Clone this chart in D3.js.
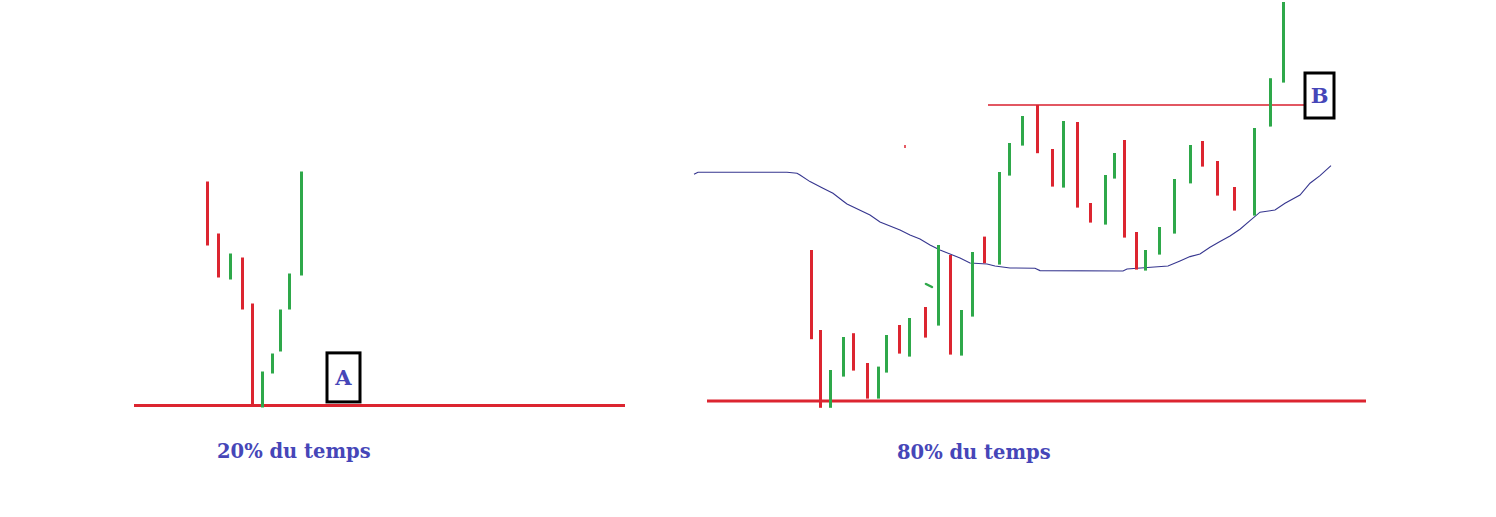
<!DOCTYPE html>
<html>
<head>
<meta charset="utf-8">
<script src="https://cdn.jsdelivr.net/npm/d3@7"></script>
<style>
  html, body { margin: 0; padding: 0; background: #ffffff; }
  svg { display: block; }
</style>
</head>
<body>
<svg id="chart" width="1496" height="517"></svg>
<script>
// ---------- DATA ----------
// Left panel: "20% du temps"
const leftTime = [7.3, 8.4, 9.6, 10.8, 11.8, 12.8, 13.8, 14.6, 15.5, 16.7];
const leftHigh = [112, 86, 76, 74, 51, 17, 26, 48, 66, 117];
const leftLow  = [80, 64, 63, 48, 0, -1, 16, 27, 48, 65];
const leftDir  = ["down","down","up","down","down","up","up","up","up","up"];
const leftSupport = { level: 0, from: 0, to: 49.1 };
const leftBox = { label: "A", t0: 19.3, t1: 22.6, p0: 1.8, p1: 26.3 };
const leftCaption = "20% du temps";

// Right panel: "80% du temps"
const rightTime = [10.4, 11.3, 12.3, 13.6, 14.6, 16.0, 17.1, 17.9, 19.2, 20.2,
                   21.8, 23.1, 24.3, 25.4, 26.5, 27.7, 29.2, 30.2, 31.5, 33.0,
                   34.5, 35.6, 37.0, 38.3, 39.8, 40.7, 41.7, 42.9, 43.8, 45.2,
                   46.7, 48.3, 49.5, 51.0, 52.7, 54.7, 56.3, 57.6];
const rightHigh = [75.5, 35.5, 15.5, 32, 33.9, 19, 17.2, 33, 38, 41.5,
                   47, 78, 73, 45.5, 74.5, 82.2, 114.5, 129, 142.5, 148,
                   126, 140, 139.5, 99, 113, 124, 130.5, 84.5, 75.5, 87,
                   111, 128, 130, 120, 107, 136.5, 161.4, 199.5];
const rightLow  = [30.9, -3.4, -3.4, 12.2, 15.2, 1.2, 1.2, 14.2, 23.7, 22.2,
                   31.7, 37.7, 23.2, 22.7, 42.2, 68.9, 68.2, 112.7, 127.7, 123.9,
                   107.2, 106.7, 96.7, 89.2, 88.2, 111.2, 81.7, 65.7, 65.2, 73.2,
                   83.7, 108.8, 117.2, 102.7, 95.2, 92.7, 137.2, 159.2];
const rightDir  = ["down","down","up","up","down","down","up","up","down","up",
                   "down","up","down","up","up","down","up","up","up","down",
                   "down","up","down","down","up","up","down","down","up","up",
                   "up","up","down","down","down","up","up","up"];
const rightSupport = { level: 0, from: 0, to: 65.9 };
const rightResistance = { level: 148, from: 28.1, to: 59.7 };
const rightBox = { label: "B", t0: 59.8, t1: 62.7, p0: 141.5, p1: 164 };
const rightCaption = "80% du temps";

// moving-average curve (time, price)
const maTime  = [-1.3, -0.9, 8.0, 9.0, 9.3, 10.3, 11.6, 12.6, 13.6, 14.0,
                 16.3, 17.3, 19.3, 20.3, 21.3, 22.3, 23.3, 24.3, 25.3, 26.3,
                 28.0, 28.8, 30.3, 32.8, 33.3, 41.6, 42.0, 46.1, 47.3, 48.3,
                 49.3, 50.3, 51.3, 52.3, 53.3, 54.3, 55.3, 56.8, 57.8, 59.3,
                 60.3, 61.3, 62.4];
const maPrice = [113.4, 114.4, 114.4, 113.9, 113, 109.7, 106.4, 103.9, 100, 98.5,
                 93, 89.5, 85.5, 83, 81, 78, 75.5, 73.5, 71.5, 69,
                 68.5, 67.5, 66.5, 66.4, 65.2, 65, 66, 67.5, 70, 72.2,
                 73.5, 76.9, 79.7, 82.5, 85.9, 90.2, 94.4, 95.5, 98.9, 103,
                 108.9, 112.7, 117.7];

// small stray marks on the drawing
const strayRed   = { t: 19.8, high: 128, low: 126.5 };
const strayGreen = { t0: 21.9, p0: 58.5, t1: 22.5, p1: 57 };

// ---------- STYLE ----------
const RED = "#dc2530";
const GREEN = "#2ea84a";
const BLUE = "#36368f";
const TEXT = "#4646b8";
const FONT = "'DejaVu Serif', 'Liberation Serif', serif";

const svg = d3.select("#chart");

// ---------- SCALES ----------
const xL = d3.scaleLinear().domain([0, 49]).range([134, 624]);
const yL = d3.scaleLinear().domain([0, 100]).range([405.5, 205.5]);
const xR = d3.scaleLinear().domain([0, 66]).range([707, 1367]);
const yR = d3.scaleLinear().domain([0, 100]).range([401, 201]);

// snap a 3px-wide vertical stroke to whole pixels
const snap = v => Math.round(v) + 0.5;

function drawPanel(g, x, y, times, highs, lows, dirs) {
  const rows = times.map((t, i) => ({ t, h: highs[i], l: lows[i], d: dirs[i] }));
  g.selectAll("line.bar").data(rows).join("line")
    .attr("class", "bar")
    .attr("x1", d => snap(x(d.t))).attr("x2", d => snap(x(d.t)))
    .attr("y1", d => y(d.h)).attr("y2", d => y(d.l))
    .attr("stroke", d => d.d === "up" ? GREEN : RED)
    .attr("stroke-width", 3);
}

function drawBox(g, x, y, b) {
  g.append("rect")
    .attr("x", x(b.t0)).attr("y", y(b.p1))
    .attr("width", x(b.t1) - x(b.t0)).attr("height", y(b.p0) - y(b.p1))
    .attr("fill", "none").attr("stroke", "#000").attr("stroke-width", 3);
  g.append("text")
    .attr("x", (x(b.t0) + x(b.t1)) / 2)
    .attr("y", (y(b.p0) + y(b.p1)) / 2 + 7.5)
    .attr("text-anchor", "middle")
    .attr("font-family", FONT).attr("font-weight", "bold")
    .attr("font-size", 21).attr("fill", TEXT)
    .text(b.label);
}

// ---------- LEFT PANEL ----------
const gL = svg.append("g");
gL.append("line")
  .attr("x1", xL(leftSupport.from)).attr("x2", xL(leftSupport.to))
  .attr("y1", yL(leftSupport.level)).attr("y2", yL(leftSupport.level))
  .attr("stroke", RED).attr("stroke-width", 3);
drawPanel(gL, xL, yL, leftTime, leftHigh, leftLow, leftDir);
drawBox(gL, xL, yL, leftBox);
gL.append("text")
  .attr("x", 217).attr("y", 457.5)
  .attr("font-family", FONT).attr("font-weight", "bold")
  .attr("font-size", 19.5).attr("fill", TEXT)
  .text(leftCaption);

// ---------- RIGHT PANEL ----------
const gR = svg.append("g");
gR.append("line")
  .attr("x1", xR(rightSupport.from)).attr("x2", xR(rightSupport.to))
  .attr("y1", yR(rightSupport.level)).attr("y2", yR(rightSupport.level))
  .attr("stroke", RED).attr("stroke-width", 3);

const maRows = maTime.map((t, i) => ({ t, p: maPrice[i] }));
gR.append("path")
  .datum(maRows)
  .attr("d", d3.line().x(d => xR(d.t)).y(d => yR(d.p)))
  .attr("fill", "none").attr("stroke", BLUE).attr("stroke-width", 1.1);

gR.append("line")
  .attr("x1", xR(rightResistance.from)).attr("x2", xR(rightResistance.to))
  .attr("y1", yR(rightResistance.level)).attr("y2", yR(rightResistance.level))
  .attr("stroke", "#d81f2e").attr("stroke-width", 1.5);

drawPanel(gR, xR, yR, rightTime, rightHigh, rightLow, rightDir);

gR.append("line")
  .attr("x1", xR(strayRed.t)).attr("x2", xR(strayRed.t))
  .attr("y1", yR(strayRed.high)).attr("y2", yR(strayRed.low))
  .attr("stroke", RED).attr("stroke-width", 1.5);
gR.append("line")
  .attr("x1", xR(strayGreen.t0)).attr("x2", xR(strayGreen.t1))
  .attr("y1", yR(strayGreen.p0)).attr("y2", yR(strayGreen.p1))
  .attr("stroke", GREEN).attr("stroke-width", 2.5).attr("stroke-linecap", "round");

drawBox(gR, xR, yR, rightBox);
gR.append("text")
  .attr("x", 897).attr("y", 459)
  .attr("font-family", FONT).attr("font-weight", "bold")
  .attr("font-size", 19.5).attr("fill", TEXT)
  .text(rightCaption);
</script>
</body>
</html>
